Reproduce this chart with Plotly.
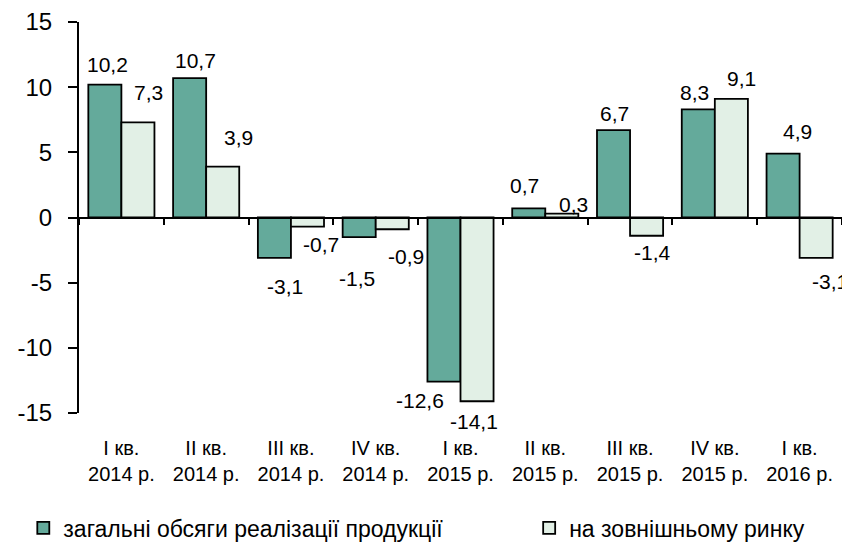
import plotly.graph_objects as go

categories = ["I кв.<br>2014 р.", "II кв.<br>2014 р.", "III кв.<br>2014 р.", "IV кв.<br>2014 р.",
              "I кв.<br>2015 р.", "II кв.<br>2015 р.", "III кв.<br>2015 р.", "IV кв.<br>2015 р.",
              "I кв.<br>2016 р."]
total_sales = [10.2, 10.7, -3.1, -1.5, -12.6, 0.7, 6.7, 8.3, 4.9]
external_market = [7.3, 3.9, -0.7, -0.9, -14.1, 0.3, -1.4, 9.1, -3.1]
series_names = ["загальні обсяги реалізації продукції", "на зовнішньому ринку"]
y_tickvals = [-15, -10, -5, 0, 5, 10, 15]
y_ticktext = ["-15", "-10", "-5", "0", "5", "10", "15"]

# label placement tweaks (pixels) relative to bar end, as in the original
total_label_shift = [(3, 20), (6, 18), (11, -29), (-2, -41), (-24, -19), (-4, 23), (1, 17), (-4, 17), (14, 22)]
ext_label_shift = [(11, 30), (16, 29), (14, -18), (14, -27), (-3, -20), (12, 9), (6, -17), (10, 20), (14, -24)]

GREEN = "#64AA9B"
LIGHT = "#E2F0E6"
FONT = "Liberation Sans, Arial, sans-serif"
BAR_W = 0.39

fig = go.Figure()
fig.add_trace(go.Bar(
    x=categories, y=total_sales, name=series_names[0],
    width=BAR_W, offset=-BAR_W, showlegend=True,
    marker=dict(color=GREEN, line=dict(color="black", width=1.8)),
    xaxis="x", yaxis="y", legend="legend",
))
fig.add_trace(go.Bar(
    x=categories, y=external_market, name=series_names[1],
    width=BAR_W, offset=0, showlegend=True,
    marker=dict(color=LIGHT, line=dict(color="black", width=1.8)),
    xaxis="x2", yaxis="y", legend="legend2",
))

def fmt(v):
    return f"{v:.1f}".replace(".", ",")

annotations = []
for i, v in enumerate(total_sales):
    dx, dy = total_label_shift[i]
    annotations.append(dict(x=i - BAR_W / 2, y=v, xref="x", yref="y", text=fmt(v),
                            showarrow=False, xshift=dx, yshift=dy,
                            font=dict(family=FONT, size=21, color="black")))
for i, v in enumerate(external_market):
    dx, dy = ext_label_shift[i]
    annotations.append(dict(x=i + BAR_W / 2, y=v, xref="x", yref="y", text=fmt(v),
                            showarrow=False, xshift=dx, yshift=dy,
                            font=dict(family=FONT, size=21, color="black")))

fig.update_layout(
    width=850, height=543,
    margin=dict(l=71, r=16, t=14, b=138, autoexpand=False),
    paper_bgcolor="white", plot_bgcolor="white",
    font=dict(family=FONT, color="black"),
    showlegend=True,
    bargap=0.22,
    annotations=annotations,
    xaxis=dict(type="category", categoryorder="array", categoryarray=categories,
               range=[-0.5, 8.5], showline=False, ticks="", showgrid=False,
               zeroline=False, tickfont=dict(family=FONT, size=20, color="black"),
               ticklabelstandoff=21),
    xaxis2=dict(type="category", categoryorder="array", categoryarray=categories,
                range=[-0.5, 8.5], overlaying="x", anchor="free", position=0.5,
                showline=True, linecolor="black", linewidth=2,
                ticks="outside", tickson="boundaries", ticklen=6, tickwidth=2,
                tickcolor="black", showticklabels=False, showgrid=False, zeroline=False),
    yaxis=dict(range=[-15, 15], tickvals=y_tickvals, ticktext=y_ticktext,
               showline=True, linecolor="black", linewidth=2,
               ticks="outside", ticklen=9, tickwidth=2, tickcolor="black",
               showgrid=False, zeroline=False, ticklabelstandoff=11,
               tickfont=dict(family=FONT, size=24, color="black")),
    yaxis2=dict(range=[-15, 15], tickvals=y_tickvals, overlaying="y", anchor="x",
                side="left", showline=False, ticks="inside", ticklen=8, tickwidth=2,
                tickcolor="black", showticklabels=False, showgrid=False, zeroline=False),
    legend=dict(orientation="h", x=-0.073, xanchor="left", y=-0.294, yanchor="middle",
                font=dict(family=FONT, size=23, color="black"), bgcolor="rgba(0,0,0,0)"),
    legend2=dict(orientation="h", x=0.590, xanchor="left", y=-0.294, yanchor="middle",
                 font=dict(family=FONT, size=23, color="black"), bgcolor="rgba(0,0,0,0)"),
)

fig.write_html("out.html")
